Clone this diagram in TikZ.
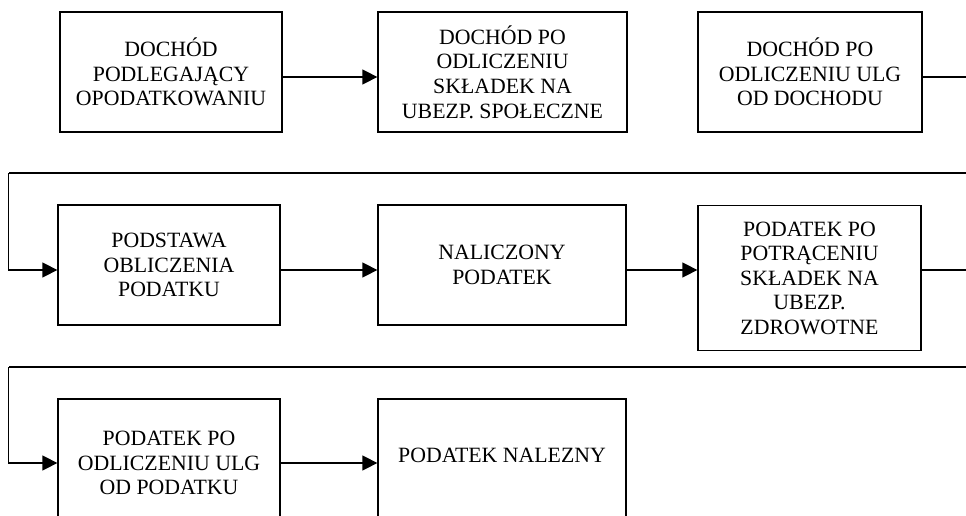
\documentclass[tikz,border=0pt]{standalone}
\usepackage{fontspec}
\setmainfont{Liberation Serif}
\usetikzlibrary{arrows.meta}

\tikzset{
    box/.style={draw, line width=1.3pt, inner sep=0pt, align=center,
        font=\fontsize{21.8}{24.6}\selectfont},
    arr/.style={line width=1.5pt, -{Triangle[length=15pt,width=15pt]}},
    link/.style={line width=1.5pt}
}

\begin{document}
\begin{tikzpicture}[x=1pt,y=1pt,yscale=-1,xscale=1]
        \useasboundingbox (0,0) rectangle (966,516);
        \clip (0,0) rectangle (966,516);

        % Row 1
        \node [box, minimum width=222, minimum height=120] (dochod) at (171,72) {DOCHÓD\\PODLEGAJĄCY\\OPODATKOWANIU};
        \node [box, minimum width=249, minimum height=120] (skladki) at (502.5,72) {DOCHÓD PO\\ODLICZENIU\\SKŁADEK NA\\UBEZP. SPOŁECZNE};
        \node [box, minimum width=224, minimum height=120] (ulgiD) at (810,72) {DOCHÓD PO\\ODLICZENIU ULG\\OD DOCHODU};

        % Row 2
        \node [box, minimum width=222, minimum height=120] (podstawa) at (169,265) {PODSTAWA\\OBLICZENIA\\PODATKU};
        \node [box, minimum width=248, minimum height=120] (naliczony) at (502,265) {NALICZONY\\PODATEK};
        \node [box, minimum width=223, minimum height=145] (zdrowotne) at (809.5,278.3) {PODATEK PO\\POTRĄCENIU\\SKŁADEK NA\\UBEZP.\\ZDROWOTNE};

        % Row 3
        \node [box, minimum width=222, minimum height=128] (ulgiP) at (169,463) {PODATEK PO\\ODLICZENIU ULG\\OD PODATKU};
        \node [box, minimum width=248, minimum height=128] (nalezny) at (502,463) {\raisebox{15pt}{PODATEK NALEZNY}};

        % levels of the connectors
        \coordinate (r1) at (0,77);
        \coordinate (r2) at (0,270);
        \coordinate (r3) at (0,463);
        \coordinate (back1) at (8.5,173);
        \coordinate (back2) at (8.5,367);
        \coordinate (out1) at (985,173);
        \coordinate (out2) at (985,367);

        % Arrows
        \draw [arr] (dochod.east |- r1) -- (skladki.west |- r1);
        \draw [link] (ulgiD.east |- r1) -| (out1) -- (back1);
        \draw [arr] (back1) |- (podstawa.west |- r2);
        \draw [arr] (podstawa.east |- r2) -- (naliczony.west |- r2);
        \draw [arr] (naliczony.east |- r2) -- (zdrowotne.west |- r2);
        \draw [link] (zdrowotne.east |- r2) -| (out2) -- (back2);
        \draw [arr] (back2) |- (ulgiP.west |- r3);
        \draw [arr] (ulgiP.east |- r3) -- (nalezny.west |- r3);
\end{tikzpicture}
\end{document}
